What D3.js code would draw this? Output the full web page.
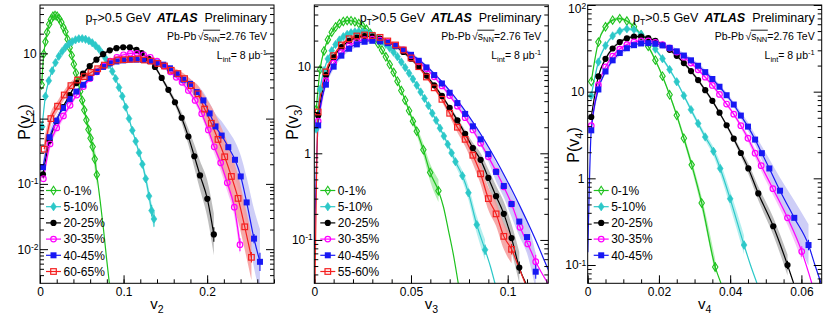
<!DOCTYPE html>
<html><head><meta charset="utf-8">
<script src="https://cdn.jsdelivr.net/npm/d3@7/dist/d3.min.js"></script>
<style>
html,body{margin:0;padding:0;background:#fff;}
svg{display:block;font-family:"Liberation Sans",Arial,Helvetica,sans-serif;}
text{white-space:pre;}
</style></head><body>
<svg id="c" width="830" height="318"></svg>
<script>
// ---------------- DATA ----------------
const cent_v2 = ["0-1%","5-10%","20-25%","30-35%","40-45%","60-65%"];
const cent_v3 = ["0-1%","5-10%","20-25%","30-35%","40-45%","55-60%"];
const cent_v4 = ["0-1%","5-10%","20-25%","30-35%","40-45%"];

const xTicks_v2 = [0,0.1,0.2],  xLabels_v2 = ["0","0.1","0.2"];
const xTicks_v3 = [0,0.05,0.1], xLabels_v3 = ["0","0.05","0.1"];
const xTicks_v4 = [0,0.02,0.04,0.06], xLabels_v4 = ["0","0.02","0.04","0.06"];
const yTicks_v2 = [0.01,0.1,1,10],  yLabels_v2 = [["10","-2"],["10","-1"],["1",""],["10",""]];
const yTicks_v3 = [0.1,1,10],       yLabels_v3 = [["10","-1"],["1",""],["10",""]];
const yTicks_v4 = [0.1,1,10,100],   yLabels_v4 = [["10","-1"],["1",""],["10",""],["10","2"]];

// points: [v, P(v), systematic half-width (log10), optional statistical half-width (log10)]
const v2_c0_1 = [[0.002,3.3,.02],[0.0045,9.8,.02],[0.0065,15,.02],[0.0085,21,.02],[0.011,28,.02],[0.013,33,.02],[0.0155,37,.02],[0.018,38,.02],[0.0205,37,.02],[0.023,34,.02],[0.0255,30,.02],[0.028,25,.02],[0.0305,21.5,.02],[0.033,16.5,.02],[0.0355,12.2,.02],[0.038,9.3,.02],[0.0405,6.8,.02],[0.043,5.0,.02],[0.0455,3.7,.03],[0.048,2.6,.04],[0.0505,1.9,.05],[0.053,1.35,.06],[0.0555,0.95,.08],[0.058,0.68,.1],[0.0605,0.5,.12],[0.063,0.37,.14],[0.0655,0.24,.16],[0.068,0.138,.18,.04]];
const v2_c0_1_tail = [[0.072,0.055],[0.076,0.02],[0.0795,0.0075],[0.083,0.003]];
const v2_c5_10 = [[0.0025,0.75,.04],[0.0065,2.2,.03],[0.0105,3.8,.02],[0.0145,5.4,.02],[0.0185,7.2,.02],[0.0225,9.0,.02],[0.0265,10.7,.02],[0.0305,12.4,.02],[0.0345,13.9,.02],[0.0385,15.1,.02],[0.0425,16.1,.02],[0.0465,16.7,.02],[0.0505,16.8,.02],[0.0545,16.4,.02],[0.0585,15.6,.02],[0.0625,14.5,.02],[0.0665,13.1,.02],[0.0705,11.7,.02],[0.0745,10.0,.02],[0.0785,8.3,.02],[0.0825,6.7,.02],[0.0865,5.3,.02],[0.0905,4.1,.02],[0.0945,3.0,.02],[0.0985,2.2,.02],[0.1025,1.5,.02],[0.1065,1.0,.03],[0.1105,0.66,.03],[0.1145,0.45,.04],[0.1185,0.3,.05],[0.1225,0.2,.06],[0.1265,0.12,.08],[0.1305,0.065,.1,.06],[0.1335,0.039,.12,.09],[0.1364,0.029,.14,.12]];
const v2_c20_25 = [[0.0035,0.14,.08],[0.0115,0.46,.05],[0.0195,0.92,.03],[0.0275,1.5,.02],[0.0355,2.3,.02],[0.0435,3.5,.02],[0.0515,4.9,.02],[0.0595,6.4,.02],[0.0675,8.0,.02],[0.0755,9.7,.02],[0.0835,11.1,.02],[0.0915,12.0,.02],[0.0995,12.4,.02],[0.1075,12.3,.02],[0.1155,11.3,.02],[0.1216,10.1,.02],[0.1296,8.3,.02],[0.1376,6.2,.03],[0.1456,4.2,.03],[0.1536,2.76,.04],[0.1615,1.78,.05],[0.1695,1.03,.08],[0.1775,0.53,.12],[0.1847,0.265,.18],[0.1915,0.135,.22],[0.2002,0.059,.28],[0.208,0.0168,.32,.11]];
const v2_c30_35 = [[0.004,0.12,.12],[0.012,0.41,.08],[0.020,0.72,.06],[0.028,1.1,.05],[0.036,1.6,.04],[0.044,2.3,.03],[0.052,3.1,.03],[0.060,4.1,.03],[0.068,5.2,.03],[0.076,6.4,.03],[0.084,7.6,.03],[0.092,8.7,.03],[0.100,9.5,.03],[0.108,10.0,.03],[0.116,10.0,.03],[0.124,9.5,.03],[0.132,8.7,.03],[0.140,7.6,.03],[0.148,6.4,.03],[0.156,5.2,.03],[0.163,4.3,.03],[0.170,3.6,.04],[0.1775,2.7,.04],[0.1856,1.9,.05],[0.1935,1.19,.06],[0.2014,0.67,.08],[0.2085,0.37,.1],[0.2162,0.21,.12],[0.2241,0.104,.13],[0.2325,0.044,.14],[0.2393,0.0117,.15,.1]];
const v2_c40_45 = [[0.0035,0.18,.12],[0.0115,0.52,.09],[0.0195,0.93,.07],[0.0275,1.45,.05],[0.0355,2.0,.04],[0.0435,2.6,.03],[0.0515,3.3,.03],[0.0595,4.2,.03],[0.0675,5.2,.03],[0.0755,6.2,.03],[0.0835,7.0,.03],[0.0915,7.5,.03],[0.0995,7.8,.03],[0.1075,8.0,.03],[0.1155,8.0,.03],[0.1235,7.9,.03],[0.1315,7.6,.03],[0.1395,7.2,.03],[0.1475,6.7,.03],[0.1555,5.9,.04],[0.1635,4.8,.05],[0.1715,3.95,.06],[0.1795,3.4,.08],[0.1875,2.55,.1],[0.1955,1.9,.13],[0.2030,1.2,.16],[0.2100,0.76,.19],[0.2174,0.55,.22],[0.2253,0.365,.25],[0.2333,0.234,.28],[0.2402,0.13,.32],[0.2473,0.052,.38],[0.2561,0.0145,.45,.07],[0.2632,0.0064,.5,.14]];
const v2_c60_65 = [[0.005,0.34,.15],[0.013,1.0,.1],[0.021,1.55,.08],[0.029,2.3,.07],[0.037,3.2,.06],[0.045,3.9,.05],[0.053,4.4,.05],[0.061,5.1,.04],[0.069,5.8,.04],[0.077,6.6,.04],[0.085,7.4,.04],[0.093,7.9,.04],[0.101,8.0,.04],[0.109,8.1,.04],[0.117,8.2,.04],[0.125,7.9,.04],[0.133,7.6,.04],[0.141,7.0,.04],[0.149,6.4,.05],[0.157,5.5,.05],[0.165,4.9,.06],[0.173,4.1,.07],[0.181,3.2,.09],[0.189,2.4,.13],[0.197,1.4,.2],[0.205,0.85,.26],[0.213,0.48,.3],[0.221,0.26,.33],[0.229,0.13,.35],[0.237,0.06,.35],[0.245,0.022,.35],[0.253,0.0075,.35,.08]];

const v3_c0_1 = [[0.001,3.2,.02],[0.003,9.3,.02],[0.005,15.2,.02],[0.007,20.5,.02],[0.009,25,.02],[0.011,28.7,.02],[0.013,31.4,.02],[0.015,33.2,.02],[0.017,34,.02],[0.019,33.9,.02],[0.021,33,.02],[0.023,31.5,.02],[0.025,29.4,.02],[0.027,27,.02],[0.029,24.2,.02],[0.031,21.3,.02],[0.033,18.4,.02],[0.035,15.6,.02],[0.037,13,.02],[0.039,10.6,.02],[0.041,8.6,.02],[0.043,6.8,.02],[0.045,5.3,.02],[0.047,4.1,.02],[0.049,3.1,.03],[0.051,2.35,.04],[0.053,1.8,.05],[0.0564,1.1,.07],[0.0599,0.6,.1],[0.0642,0.37,.13,.05]];
const v3_c0_1_tail = [[0.0668,0.24],[0.0693,0.131],[0.0718,0.07],[0.0745,0.031]];
const v3_c5_10 = [[0.001,1.9,.02],[0.003,5.5,.02],[0.005,9.0,.02],[0.007,12.3,.02],[0.009,15.3,.02],[0.011,18,.02],[0.013,20.3,.02],[0.015,22.2,.02],[0.017,23.6,.02],[0.019,24.6,.02],[0.021,25.2,.02],[0.023,25.4,.02],[0.025,25.2,.02],[0.027,24.6,.02],[0.029,23.8,.02],[0.031,22.6,.02],[0.033,21.2,.02],[0.035,19.7,.02],[0.037,18.1,.02],[0.039,16.4,.02],[0.041,14.7,.02],[0.043,13.0,.02],[0.045,11.3,.02],[0.047,9.8,.02],[0.049,8.4,.02],[0.051,7.2,.02],[0.053,6.1,.02],[0.055,5.1,.02],[0.057,4.3,.02],[0.059,3.55,.02],[0.061,2.9,.02],[0.063,2.4,.02],[0.065,1.95,.02],[0.067,1.58,.02],[0.069,1.27,.03],[0.071,1.01,.04],[0.073,0.8,.05],[0.0766,0.55,.06],[0.0797,0.35,.08],[0.084,0.15,.1],[0.0883,0.077,.12,.06]];
const v3_c5_10_tail = [[0.091,0.05],[0.0935,0.031]];
const v3_c20_25 = [[0.002,2.74,.02],[0.006,8.0,.02],[0.010,12.8,.02],[0.014,16.8,.02],[0.018,19.8,.02],[0.022,21.6,.02],[0.026,22.5,.02],[0.030,22.2,.02],[0.034,21.1,.02],[0.038,19.3,.02],[0.042,17.2,.02],[0.046,14.8,.02],[0.050,12.35,.02],[0.054,10.0,.02],[0.058,7.9,.02],[0.062,6.1,.02],[0.066,4.6,.02],[0.070,3.35,.02],[0.074,2.4,.03],[0.078,1.68,.04],[0.082,1.15,.06],[0.086,0.84,.08],[0.090,0.52,.1],[0.094,0.32,.12],[0.098,0.2,.14],[0.102,0.105,.16],[0.106,0.048,.18,.07]];
const v3_c20_25_tail = [[0.1094,0.0316]];
const v3_c30_35 = [[0.002,2.35,.02],[0.006,6.9,.02],[0.010,11.0,.02],[0.014,14.6,.02],[0.018,17.45,.02],[0.022,19.4,.02],[0.026,20.5,.02],[0.030,20.75,.02],[0.034,20.2,.02],[0.038,19.1,.02],[0.042,17.5,.02],[0.046,15.6,.02],[0.050,13.5,.02],[0.054,11.4,.02],[0.058,9.45,.02],[0.062,7.63,.02],[0.066,6.0,.02],[0.070,4.64,.02],[0.074,3.5,.02],[0.078,2.58,.02],[0.082,1.86,.02],[0.086,1.31,.03],[0.090,0.91,.04],[0.094,0.62,.05],[0.098,0.41,.06],[0.102,0.26,.07],[0.1064,0.14,.08],[0.1104,0.09,.09],[0.1145,0.056,.1,.08]];
const v3_c30_35_tail = [[0.1214,0.03]];
const v3_c40_45 = [[0.002,2.1,.03],[0.006,6.2,.03],[0.010,10,.03],[0.014,13.4,.03],[0.018,16.1,.03],[0.022,18.1,.03],[0.026,19.4,.03],[0.030,19.9,.03],[0.034,19.6,.03],[0.038,18.7,.03],[0.042,17.3,.03],[0.046,15.6,.03],[0.050,13.7,.03],[0.054,11.7,.03],[0.058,9.8,.03],[0.062,8.0,.03],[0.066,6.4,.03],[0.070,5.0,.03],[0.074,3.8,.03],[0.078,2.85,.04],[0.082,2.05,.05],[0.086,1.45,.07],[0.090,0.98,.09],[0.094,0.61,.11],[0.098,0.42,.13],[0.102,0.26,.15],[0.106,0.163,.17],[0.110,0.108,.19],[0.1145,0.043,.21,.08]];
const v3_c40_45_fit = [[0.00007,0.08],[0.002,2.17],[0.006,6.4],[0.010,10.3],[0.014,13.7],[0.018,16.4],[0.022,18.4],[0.026,19.6],[0.030,20.0],[0.034,19.7],[0.038,18.8],[0.042,17.5],[0.046,15.8],[0.050,13.9],[0.054,12.0],[0.058,10.1],[0.062,8.32],[0.066,6.7],[0.070,5.29],[0.074,4.09],[0.078,3.09],[0.082,2.29],[0.086,1.67],[0.090,1.19],[0.094,0.83],[0.098,0.57],[0.102,0.384],[0.106,0.254],[0.110,0.165],[0.114,0.105],[0.118,0.065],[0.122,0.040]];
const v3_c55_60 = [[0.002,3.0,.06],[0.006,8.7,.04],[0.010,13.4,.02],[0.014,17.8,.02],[0.018,21.0,.02],[0.022,22.6,.02],[0.026,23.2,.02],[0.030,22.9,.02],[0.034,21.8,.02],[0.038,19.8,.02],[0.042,17.8,.02],[0.046,15.6,.02],[0.050,12.6,.02],[0.054,10.0,.02],[0.058,7.6,.02],[0.062,5.7,.02],[0.066,4.2,.03],[0.070,2.9,.04],[0.074,2.0,.06],[0.078,1.45,.08],[0.082,0.95,.1],[0.086,0.58,.12],[0.090,0.3,.13],[0.094,0.2,.14],[0.098,0.11,.15],[0.102,0.078,.16,.06]];
const v3_c55_60_head = [[0.0001,0.01]];
const v3_c55_60_tail = [[0.1055,0.05],[0.109,0.0316]];

const v4_c0_1 = [[0.001,13.1,.02],[0.003,37.3,.02],[0.005,56,.02],[0.007,66.9,.02],[0.009,69.6,.02],[0.011,65.3,.02],[0.013,56.2,.02],[0.015,45.0,.02],[0.017,33.3,.02],[0.019,23.1,.02],[0.021,15.1,.02],[0.023,9.2,.02],[0.025,5.33,.03],[0.027,2.9,.04],[0.0292,1.43,.05],[0.032,0.52,.07],[0.0358,0.095,.09,.05]];
const v4_c0_1_tail = [[0.0374,0.062]];
const v4_c5_10 = [[0.001,9,.02],[0.003,22,.02],[0.005,34,.02],[0.007,44,.02],[0.009,50,.02],[0.011,53,.02],[0.013,52,.02],[0.015,46,.02],[0.017,38.5,.02],[0.019,31,.02],[0.021,24,.02],[0.023,18,.02],[0.025,13,.02],[0.027,9.0,.02],[0.029,6.2,.03],[0.031,4.3,.03],[0.033,3.0,.04],[0.0353,2.05,.05],[0.0372,1.3,.07],[0.040,0.58,.09],[0.0439,0.17,.11,.05]];
const v4_c5_10_tail = [[0.0457,0.1],[0.0475,0.062]];
const v4_c20_25 = [[0.001,5.1,.02],[0.003,15.0,.02],[0.005,23.9,.02],[0.007,31.5,.02],[0.009,37.3,.02],[0.011,41.2,.02],[0.013,43.1,.02],[0.015,43.2,.02],[0.017,41.5,.02],[0.019,38.6,.02],[0.021,34.8,.02],[0.023,30.4,.02],[0.025,25.9,.02],[0.027,21.4,.02],[0.029,17.3,.02],[0.031,13.6,.02],[0.033,10.4,.02],[0.035,7.84,.02],[0.037,5.72,.02],[0.039,4.1,.02],[0.041,2.87,.03],[0.043,1.96,.04],[0.0451,1.3,.06],[0.0479,0.67,.08],[0.0521,0.28,.1],[0.0561,0.1,.12,.05]];
const v4_c20_25_tail = [[0.0578,0.062]];
const v4_c30_35 = [[0.001,4.05,.02],[0.003,11.95,.02],[0.005,19.3,.02],[0.007,25.7,.02],[0.009,31.0,.02],[0.011,34.9,.02],[0.013,37.4,.02],[0.015,38.4,.02],[0.017,38.4,.02],[0.019,37.0,.02],[0.021,34.8,.02],[0.023,31.9,.02],[0.025,28.6,.02],[0.027,25.0,.02],[0.029,21.4,.02],[0.031,17.9,.02],[0.033,14.7,.02],[0.035,11.8,.02],[0.037,9.3,.02],[0.039,7.2,.02],[0.041,5.5,.02],[0.043,4.05,.03],[0.045,2.9,.04],[0.047,1.95,.05],[0.0487,1.4,.06],[0.052,0.76,.07],[0.0561,0.35,.08],[0.0601,0.143,.1,.06]];
const v4_c30_35_tail = [[0.0629,0.062]];
const v4_c40_45 = [[0.001,3.58,.03],[0.003,10.6,.03],[0.005,17.1,.03],[0.007,23.0,.03],[0.009,27.9,.03],[0.011,31.7,.03],[0.013,34.4,.03],[0.015,36.0,.03],[0.017,36.3,.03],[0.019,35.7,.03],[0.021,34.2,.03],[0.023,32.0,.03],[0.025,29.2,.03],[0.027,26.1,.03],[0.029,23.0,.03],[0.031,19.9,.03],[0.033,16.8,.03],[0.035,14.0,.03],[0.037,11.4,.03],[0.039,9.1,.03],[0.041,7.1,.03],[0.043,5.3,.04],[0.045,3.95,.05],[0.047,2.8,.06],[0.0489,1.95,.08],[0.051,1.3,.11],[0.054,0.72,.15],[0.058,0.35,.2],[0.062,0.17,.24,.06]];
const v4_c40_45_head = [[0.00004,0.14]];
const v4_c40_45_tail = [[0.0638,0.1],[0.0655,0.062]];

// ---------------- STYLE / LAYOUT ----------------
const FONT = '"Liberation Sans",Arial,Helvetica,sans-serif';
const colors = ['#1ec21e','#2cc8c8','#000000','#ff00ff','#1818f4','#f42020'];
const bandColors = ['#a8eca8','#a8ecec','#b2b2b2','#f7b6f7','#c6c6f6','#f59a9a'];
const mtypes = ['dOpen','dFill','cFill','cOpen','sFill','sOpen'];
const W = 234, YT = 5, YB = 283.3;

const panels = [
  {x0:40, xd:[0,0.28], yd:[0.003,55], xt:xTicks_v2, xl:xLabels_v2, xm:0.02, yt:yTicks_v2, yl:yLabels_v2, sub:'2', cent:cent_v2, tx:30, ty:122,
   series:[{p:v2_c0_1,t:v2_c0_1_tail},{p:v2_c5_10},{p:v2_c20_25},{p:v2_c30_35},{p:v2_c40_45},{p:v2_c60_65}]},
  {x0:314.3, xd:[0,0.121], yd:[0.0316,51.5], xt:xTicks_v3, xl:xLabels_v3, xm:0.01, yt:yTicks_v3, yl:yLabels_v3, sub:'3', cent:cent_v3, tx:298, ty:122,
   series:[{p:v3_c0_1,t:v3_c0_1_tail},{p:v3_c5_10,t:v3_c5_10_tail},{p:v3_c20_25,t:v3_c20_25_tail},{p:v3_c30_35,t:v3_c30_35_tail},{p:v3_c40_45,f:v3_c40_45_fit},{p:v3_c55_60,h:v3_c55_60_head,t:v3_c55_60_tail}]},
  {x0:587.7, xd:[0,0.0657], yd:[0.0615,100], xt:xTicks_v4, xl:xLabels_v4, xm:0.005, yt:yTicks_v4, yl:yLabels_v4, sub:'4', cent:cent_v4, tx:579, ty:145,
   series:[{p:v4_c0_1,t:v4_c0_1_tail},{p:v4_c5_10,t:v4_c5_10_tail},{p:v4_c20_25,t:v4_c20_25_tail},{p:v4_c30_35,t:v4_c30_35_tail},{p:v4_c40_45,h:v4_c40_45_head,t:v4_c40_45_tail}]}
];

const svg = d3.select('#c');

function marker(g, type, cx, cy, col) {
  if (type === 'dOpen' || type === 'dFill') {
    const hw = type === 'dOpen' ? 2.7 : 2.9, hh = 4.2;
    g.append('path').attr('d', `M${cx},${cy-hh}L${cx+hw},${cy}L${cx},${cy+hh}L${cx-hw},${cy}Z`)
      .attr('fill', type === 'dFill' ? col : 'none').attr('stroke', col).attr('stroke-width', type === 'dFill' ? 0.6 : 1.1);
  } else if (type === 'cFill') {
    g.append('circle').attr('cx', cx).attr('cy', cy).attr('r', 3.1).attr('fill', col);
  } else if (type === 'cOpen') {
    g.append('circle').attr('cx', cx).attr('cy', cy).attr('r', 2.8).attr('fill', 'none').attr('stroke', col).attr('stroke-width', 1.2);
  } else if (type === 'sFill') {
    g.append('rect').attr('x', cx-3).attr('y', cy-3).attr('width', 6).attr('height', 6).attr('fill', col);
  } else {
    g.append('rect').attr('x', cx-2.8).attr('y', cy-2.8).attr('width', 5.6).attr('height', 5.6).attr('fill', 'none').attr('stroke', col).attr('stroke-width', 1.2);
  }
}

function seq(g, xr, yb, segs) {
  const parts = []; let w = 0;
  segs.forEach(s => {
    if (s.gap) { parts.push({gap: s.gap}); w += s.gap; return; }
    const t = g.append('text').attr('y', yb + (s.dy || 0)).attr('font-size', s.fs)
      .attr('font-weight', s.fw || 'normal').attr('font-style', s.fst || 'normal').attr('fill', '#000').text(s.t);
    const len = t.node().getComputedTextLength();
    parts.push({t, len, s}); w += len;
  });
  let x = xr - w;
  parts.forEach(p => { if (p.gap) { x += p.gap; return; } p.t.attr('x', x); p.x = x; x += p.len; });
  return parts;
}

panels.forEach((P, pi) => {
  const x = d3.scaleLinear().domain(P.xd).range([P.x0, P.x0 + W]);
  const y = d3.scaleLog().domain(P.yd).range([YB, YT]);
  const g = svg.append('g');
  const cid = 'clip' + pi;
  svg.append('clipPath').attr('id', cid).append('rect').attr('x', P.x0).attr('y', YT).attr('width', W).attr('height', YB - YT);
  const gc = g.append('g').attr('clip-path', `url(#${cid})`);

  const band = d3.area().x(d => x(d[0])).y0(d => y(d[1] / Math.pow(10, d[2]))).y1(d => y(d[1] * Math.pow(10, d[2]))).curve(d3.curveMonotoneX);
  const line = d3.line().x(d => x(d[0])).y(d => y(d[1])).curve(d3.curveMonotoneX);

  P.series.forEach((s, i) => {
    gc.append('path').datum(s.p).attr('d', band).attr('fill', bandColors[i]).attr('fill-opacity', 0.85);
  });
  P.series.forEach((s, i) => {
    const pts = s.f ? s.f : [...(s.h || []), ...s.p.map(d => [d[0], d[1]]), ...(s.t || [])];
    gc.append('path').datum(pts).attr('d', line).attr('fill', 'none').attr('stroke', colors[i]).attr('stroke-width', 1.2);
  });
  P.series.forEach((s, i) => {
    s.p.forEach(d => {
      if (d[3]) gc.append('line').attr('x1', x(d[0])).attr('x2', x(d[0]))
        .attr('y1', y(d[1] / Math.pow(10, d[3]))).attr('y2', y(d[1] * Math.pow(10, d[3])))
        .attr('stroke', colors[i]).attr('stroke-width', 1.1);
      marker(gc, mtypes[i], x(d[0]), y(d[1]), colors[i]);
    });
  });

  // axes
  const styleAxis = a => { a.select('.domain').remove(); a.selectAll('line').attr('stroke', '#000').attr('stroke-width', 1); };
  const xMinor = d3.range(0, P.xd[1] + 1e-9, P.xm);
  const bot = g.append('g').attr('transform', `translate(0,${YB})`)
    .call(d3.axisBottom(x).tickValues(P.xt).tickSize(-8).tickSizeOuter(0).tickPadding(4).tickFormat((d, i) => P.xl[i]));
  styleAxis(bot);
  bot.selectAll('text').attr('font-size', 12).attr('font-family', FONT).attr('fill', '#000');
  styleAxis(g.append('g').attr('transform', `translate(0,${YB})`)
    .call(d3.axisBottom(x).tickValues(xMinor).tickSize(-4).tickSizeOuter(0).tickFormat('')));

  const yMinor = [];
  for (let e = Math.floor(Math.log10(P.yd[0])); e <= Math.ceil(Math.log10(P.yd[1])); e++)
    for (let k = 2; k <= 9; k++) { const v = k * Math.pow(10, e); if (v > P.yd[0] && v < P.yd[1]) yMinor.push(v); }

  const left = g.append('g').attr('transform', `translate(${P.x0},0)`)
    .call(d3.axisLeft(y).tickValues(P.yt).tickSize(-8).tickSizeOuter(0).tickPadding(3.3).tickFormat(''));
  styleAxis(left);
  left.selectAll('.tick').each(function(d, i) {
    const lab = P.yl[i];
    const t = d3.select(this).select('text');
    t.text(null).attr('font-size', 12).attr('font-family', FONT).attr('fill', '#000');
    if (lab[1]) t.attr('x', -1.5);
    if (d >= P.yd[1] * 0.99) t.attr('dy', '0.62em');
    t.append('tspan').text(lab[0]);
    if (lab[1]) t.append('tspan').attr('dy', '-0.45em').attr('font-size', 8.5).text(lab[1]);
  });
  styleAxis(g.append('g').attr('transform', `translate(${P.x0},0)`)
    .call(d3.axisLeft(y).tickValues(yMinor).tickSize(-4).tickSizeOuter(0).tickFormat('')));
  styleAxis(g.append('g').attr('transform', `translate(${P.x0 + W},0)`)
    .call(d3.axisRight(y).tickValues(P.yt).tickSize(-8).tickSizeOuter(0).tickFormat('')));
  styleAxis(g.append('g').attr('transform', `translate(${P.x0 + W},0)`)
    .call(d3.axisRight(y).tickValues(yMinor).tickSize(-4).tickSizeOuter(0).tickFormat('')));

  g.append('rect').attr('x', P.x0).attr('y', YT).attr('width', W).attr('height', YB - YT)
    .attr('fill', 'none').attr('stroke', '#000').attr('stroke-width', 1);

  // axis titles
  const xt = g.append('text').attr('x', P.x0 + W / 2).attr('y', 309).attr('text-anchor', 'middle').attr('font-size', 15);
  xt.append('tspan').text('v');
  xt.append('tspan').attr('dy', 3.5).attr('font-size', 10.5).text(P.sub);
  const yt = g.append('text').attr('transform', `translate(${P.tx},${P.ty}) rotate(-90)`).attr('text-anchor', 'middle').attr('font-size', 16);
  yt.append('tspan').text('P(v');
  yt.append('tspan').attr('dy', 3.5).attr('font-size', 11).text(P.sub);
  yt.append('tspan').attr('dy', -3.5).text(')');

  // legend
  P.cent.forEach((lab, i) => {
    const ly = 190.5 + i * 16.2;
    g.append('line').attr('x1', P.x0 + 6).attr('x2', P.x0 + 21).attr('y1', ly).attr('y2', ly).attr('stroke', colors[i]).attr('stroke-width', 1.2);
    marker(g, mtypes[i], P.x0 + 13.5, ly, colors[i]);
    g.append('text').attr('x', P.x0 + 23.5).attr('y', ly + 4.3).attr('font-size', 12).attr('fill', '#000').text(lab);
  });

  // labels top right
  const xr = P.x0 + W - 7;
  seq(g, xr, 21.5, [{t:'p',fs:12.5},{t:'T',fs:8.5,dy:3},{t:'>0.5 GeV',fs:12.5},{gap:6},{t:'ATLAS',fs:12.5,fw:'bold',fst:'italic'},{gap:7},{t:'Preliminary',fs:12.5}]);
  const p2 = seq(g, xr, 39.5, [{t:'Pb-Pb',fs:10.5},{gap:1.5},{t:'\u221A',fs:10.5},{t:'s',fs:10.5},{t:'NN',fs:7.5,dy:2.5},{t:'=2.76 TeV',fs:10.5}]);
  const sP = p2[3], nP = p2[4];
  g.append('line').attr('x1', sP.x - 0.5).attr('x2', nP.x + nP.len + 0.5).attr('y1', 30.2).attr('y2', 30.2).attr('stroke', '#000').attr('stroke-width', 0.9);
  seq(g, xr, 59, [{t:'L',fs:10.5},{t:'int',fs:7.5,dy:2.5},{t:'= 8 \u03BCb',fs:10.5},{t:'-1',fs:7.5,dy:-4.5}]);
});
</script>
</body></html>
